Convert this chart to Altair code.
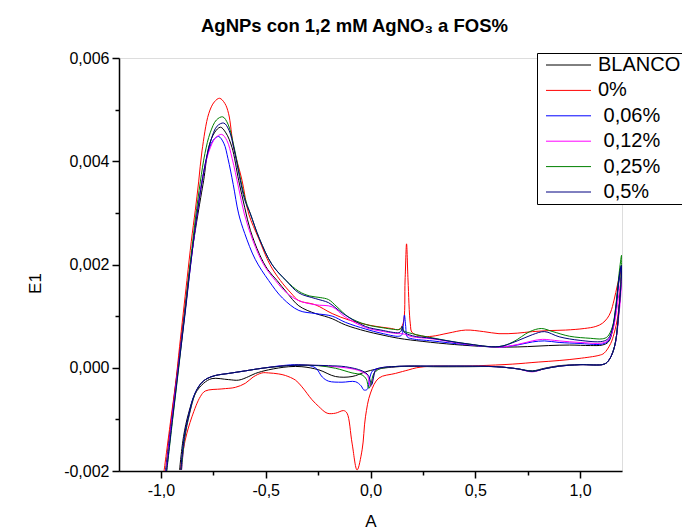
import altair as alt
import pandas as pd

# Series names (legend order) and colours
SERIES = ["BLANCO", "0%", "\u200b\u00a00,06%", "\u200b\u00a00,12%", "\u200b\u00a00,25%", "\u200b\u00a00,5%"]
COLORS = ["#000000", "#ff0000", "#0000ff", "#ff00ff", "#008000", "#000080"]

# (A, E1 in units of 1e-3), in scan order
BLANCO = [(-0.978, -2.0), (-0.95, -1.0), (-0.92, 0.0), (-0.89, 1.0), (-0.862, 1.95), (-0.836, 2.66),
          (-0.81, 3.3), (-0.796, 3.63), (-0.772, 4.27), (-0.745, 4.55), (-0.716, 4.66), (-0.69, 4.55),
          (-0.661, 4.27), (-0.629, 3.63), (-0.60, 3.1), (-0.573, 2.66), (-0.53, 2.2), (-0.49, 1.9),
          (-0.446, 1.69), (-0.40, 1.46), (-0.342, 1.2), (-0.263, 1.05), (-0.22, 1.0), (-0.183, 0.95),
          (-0.12, 0.83), (-0.024, 0.71), (0.05, 0.64), (0.135, 0.57), (0.25, 0.51), (0.40, 0.45),
          (0.55, 0.41), (0.65, 0.40), (0.75, 0.41), (0.85, 0.43), (0.95, 0.44), (1.05, 0.43),
          (1.106, 0.44), (1.135, 0.5), (1.155, 0.72), (1.17, 1.1), (1.186, 1.7), (1.197, 1.98),
          (1.194, 1.55), (1.186, 1.15), (1.17, 0.52), (1.155, 0.29), (1.138, 0.15), (1.115, 0.07),
          (1.0, 0.06), (0.9, 0.04), (0.83, -0.01), (0.772, -0.06), (0.7, -0.02), (0.6, 0.02),
          (0.45, 0.02), (0.3, 0.02), (0.183, 0.03), (0.1, 0.01), (0.024, -0.03), (-0.024, -0.08),
          (-0.088, -0.17), (-0.167, -0.17), (-0.247, -0.04), (-0.327, 0.02), (-0.39, 0.02),
          (-0.486, -0.04), (-0.549, -0.11), (-0.581, -0.17), (-0.629, -0.24), (-0.677, -0.23),
          (-0.756, -0.21), (-0.796, -0.30), (-0.836, -0.50), (-0.868, -0.88), (-0.892, -1.33),
          (-0.911, -1.98)]

FOS_0 = [(-0.985, -2.0), (-0.955, -1.07), (-0.928, -0.24), (-0.911, 0.41), (-0.876, 1.69),
         (-0.855, 2.45), (-0.836, 3.05), (-0.82, 3.6), (-0.804, 4.2), (-0.772, 4.92), (-0.745, 5.15),
         (-0.72, 5.22), (-0.695, 5.12), (-0.677, 4.92), (-0.653, 4.27), (-0.613, 3.63), (-0.581, 2.98),
         (-0.533, 2.5), (-0.48, 2.0), (-0.43, 1.69), (-0.38, 1.45), (-0.342, 1.30), (-0.263, 1.22),
         (-0.183, 1.05), (-0.1, 0.92), (0.0, 0.82), (0.1, 0.76), (0.135, 0.74), (0.155, 0.85),
         (0.165, 1.7), (0.172, 2.40), (0.179, 1.7), (0.19, 0.85), (0.199, 0.68), (0.25, 0.61),
         (0.294, 0.61), (0.37, 0.67), (0.454, 0.73), (0.54, 0.70), (0.613, 0.66), (0.7, 0.67),
         (0.772, 0.70), (0.85, 0.72), (0.931, 0.73), (1.02, 0.76), (1.075, 0.8), (1.106, 0.86),
         (1.13, 0.96), (1.146, 1.08), (1.162, 1.31), (1.178, 1.6), (1.19, 1.8), (1.197, 1.9),
         (1.192, 1.55), (1.18, 1.0), (1.162, 0.66), (1.146, 0.47), (1.114, 0.28), (1.09, 0.24),
         (0.995, 0.18), (0.9, 0.14), (0.8, 0.11), (0.676, 0.07), (0.517, 0.04), (0.4, 0.03),
         (0.294, 0.03), (0.22, 0.0), (0.183, -0.04), (0.119, -0.11), (0.04, -0.20), (0.0, -0.49),
         (-0.024, -0.95), (-0.04, -1.59), (-0.064, -1.98), (-0.088, -1.46), (-0.112, -0.88),
         (-0.128, -0.83), (-0.167, -0.88), (-0.207, -0.88), (-0.247, -0.75), (-0.279, -0.62),
         (-0.327, -0.37), (-0.358, -0.24), (-0.406, -0.15), (-0.438, -0.12), (-0.486, -0.10),
         (-0.518, -0.10), (-0.56, -0.18), (-0.597, -0.30), (-0.645, -0.38), (-0.709, -0.41),
         (-0.788, -0.45), (-0.812, -0.56), (-0.852, -0.95), (-0.884, -1.40), (-0.907, -1.98)]

FOS_006 = [(-0.976, -2.0), (-0.948, -1.0), (-0.918, 0.0), (-0.888, 1.0), (-0.86, 1.95), (-0.84, 2.6),
           (-0.82, 3.2), (-0.80, 3.7), (-0.78, 4.1), (-0.752, 4.4), (-0.725, 4.48), (-0.70, 4.35),
           (-0.68, 4.05), (-0.655, 3.55), (-0.629, 2.98), (-0.60, 2.6), (-0.55, 2.1), (-0.486, 1.69),
           (-0.42, 1.35), (-0.342, 1.11), (-0.263, 1.05), (-0.183, 1.0), (-0.12, 0.88), (-0.024, 0.75),
           (0.05, 0.67), (0.135, 0.61), (0.150, 0.64), (0.157, 0.85), (0.162, 1.02), (0.168, 0.8),
           (0.175, 0.6), (0.2, 0.56), (0.294, 0.52), (0.45, 0.45), (0.613, 0.40), (0.7, 0.44),
           (0.772, 0.5), (0.83, 0.52), (0.9, 0.49), (1.0, 0.47), (1.08, 0.45), (1.106, 0.46),
           (1.135, 0.52), (1.155, 0.74), (1.17, 1.12), (1.186, 1.72), (1.197, 1.98),
           (1.194, 1.55), (1.186, 1.15), (1.17, 0.52), (1.155, 0.29), (1.138, 0.15), (1.115, 0.07),
           (1.0, 0.06), (0.9, 0.03), (0.83, -0.02), (0.772, -0.07), (0.7, -0.02), (0.6, 0.02),
           (0.45, 0.03), (0.3, 0.03), (0.183, 0.03), (0.1, 0.02), (0.04, -0.01), (0.01, -0.06),
           (-0.004, -0.2), (-0.016, -0.42), (-0.032, -0.43), (-0.045, -0.35), (-0.072, -0.27),
           (-0.136, -0.28), (-0.2, -0.26), (-0.23, -0.18), (-0.263, 0.0), (-0.327, 0.06), (-0.4, 0.05),
           (-0.518, -0.01), (-0.597, -0.06), (-0.677, -0.11), (-0.74, -0.15), (-0.78, -0.21),
           (-0.81, -0.31), (-0.84, -0.52), (-0.866, -0.9), (-0.888, -1.35), (-0.904, -1.98)]

FOS_012 = [(-0.975, -2.0), (-0.947, -1.0), (-0.917, 0.0), (-0.887, 1.0), (-0.86, 1.95), (-0.838, 2.66),
           (-0.816, 3.3), (-0.795, 3.8), (-0.77, 4.2), (-0.74, 4.45), (-0.71, 4.52), (-0.685, 4.4),
           (-0.66, 4.05), (-0.63, 3.5), (-0.602, 2.98), (-0.56, 2.45), (-0.51, 2.0), (-0.454, 1.69),
           (-0.40, 1.45), (-0.342, 1.30), (-0.263, 1.22), (-0.183, 1.18), (-0.12, 0.98), (-0.024, 0.78),
           (0.05, 0.71), (0.135, 0.66), (0.152, 0.66), (0.2, 0.6), (0.294, 0.56), (0.45, 0.46),
           (0.613, 0.40), (0.7, 0.45), (0.772, 0.52), (0.82, 0.55), (0.9, 0.52), (1.0, 0.49),
           (1.106, 0.48), (1.135, 0.54), (1.155, 0.72), (1.17, 1.0), (1.186, 1.45), (1.197, 1.73),
           (1.194, 1.4), (1.186, 1.05), (1.17, 0.5), (1.155, 0.29), (1.138, 0.15), (1.115, 0.07),
           (1.0, 0.06), (0.9, 0.03), (0.83, -0.02), (0.772, -0.08), (0.7, -0.02), (0.6, 0.02),
           (0.45, 0.03), (0.3, 0.03), (0.183, 0.03), (0.1, 0.02), (0.04, -0.02), (0.02, -0.08),
           (0.01, -0.25), (0.0, -0.37), (-0.015, -0.15), (-0.04, -0.08), (-0.088, -0.02), (-0.2, 0.03),
           (-0.3, 0.05), (-0.4, 0.04), (-0.518, -0.01), (-0.597, -0.06), (-0.677, -0.11), (-0.74, -0.15),
           (-0.78, -0.21), (-0.81, -0.31), (-0.838, -0.52), (-0.864, -0.9), (-0.886, -1.35),
           (-0.901, -1.98)]

FOS_025 = [(-0.972, -2.0), (-0.944, -1.0), (-0.915, 0.0), (-0.886, 1.05), (-0.858, 2.1), (-0.835, 2.9),
           (-0.812, 3.6), (-0.79, 4.15), (-0.765, 4.55), (-0.735, 4.8), (-0.705, 4.86), (-0.68, 4.72),
           (-0.655, 4.35), (-0.625, 3.75), (-0.60, 3.3), (-0.573, 2.98), (-0.53, 2.5), (-0.47, 2.0),
           (-0.403, 1.69), (-0.342, 1.48), (-0.29, 1.39), (-0.24, 1.36), (-0.2, 1.32), (-0.16, 1.18),
           (-0.104, 0.98), (-0.024, 0.84), (0.05, 0.78), (0.135, 0.74), (0.146, 0.76), (0.151, 0.80),
           (0.157, 0.72), (0.2, 0.66), (0.294, 0.58), (0.45, 0.47), (0.613, 0.41), (0.68, 0.5),
           (0.76, 0.7), (0.815, 0.76), (0.87, 0.7), (0.95, 0.61), (1.05, 0.57), (1.106, 0.56),
           (1.13, 0.6), (1.154, 0.79), (1.17, 1.18), (1.186, 1.82), (1.198, 2.18),
           (1.195, 1.7), (1.187, 1.2), (1.171, 0.55), (1.156, 0.3), (1.138, 0.15), (1.115, 0.07),
           (1.0, 0.06), (0.9, 0.03), (0.83, -0.02), (0.772, -0.07), (0.7, -0.02), (0.6, 0.02),
           (0.45, 0.03), (0.3, 0.03), (0.183, 0.03), (0.1, 0.02), (0.04, -0.03), (0.015, -0.12),
           (0.003, -0.3), (-0.008, -0.40), (-0.02, -0.22), (-0.04, -0.14), (-0.088, -0.10),
           (-0.167, -0.01), (-0.25, 0.04), (-0.35, 0.05), (-0.45, 0.02), (-0.518, -0.01),
           (-0.597, -0.06), (-0.677, -0.11), (-0.74, -0.15), (-0.78, -0.21), (-0.81, -0.31),
           (-0.838, -0.52), (-0.864, -0.9), (-0.886, -1.35), (-0.902, -1.98)]

FOS_05 = [(-0.973, -2.0), (-0.945, -1.0), (-0.916, 0.0), (-0.886, 1.0), (-0.858, 2.0), (-0.835, 2.75),
          (-0.81, 3.45), (-0.788, 3.95), (-0.762, 4.4), (-0.732, 4.68), (-0.70, 4.74), (-0.675, 4.6),
          (-0.652, 4.25), (-0.625, 3.7), (-0.60, 3.25), (-0.573, 2.98), (-0.53, 2.5), (-0.47, 2.0),
          (-0.403, 1.69), (-0.342, 1.45), (-0.263, 1.34), (-0.2, 1.26), (-0.16, 1.14), (-0.12, 1.02),
          (-0.024, 0.80), (0.05, 0.73), (0.135, 0.68), (0.146, 0.71), (0.152, 0.80), (0.158, 0.70),
          (0.2, 0.62), (0.294, 0.57), (0.45, 0.47), (0.613, 0.41), (0.7, 0.52), (0.772, 0.64),
          (0.83, 0.70), (0.9, 0.6), (1.0, 0.53), (1.106, 0.51), (1.135, 0.57), (1.155, 0.78),
          (1.17, 1.15), (1.186, 1.75), (1.197, 1.98),
          (1.194, 1.55), (1.186, 1.15), (1.17, 0.52), (1.155, 0.29), (1.138, 0.15), (1.115, 0.07),
          (1.0, 0.06), (0.9, 0.03), (0.83, -0.02), (0.772, -0.07), (0.7, -0.02), (0.6, 0.02),
          (0.45, 0.03), (0.3, 0.03), (0.183, 0.03), (0.1, 0.02), (0.05, 0.0), (0.024, -0.04),
          (0.015, -0.18), (0.005, -0.33), (-0.01, -0.15), (-0.04, -0.06), (-0.12, 0.02), (-0.2, 0.04),
          (-0.3, 0.05), (-0.4, 0.04), (-0.518, -0.01), (-0.597, -0.06), (-0.677, -0.11), (-0.74, -0.15),
          (-0.78, -0.21), (-0.81, -0.31), (-0.84, -0.52), (-0.866, -0.9), (-0.889, -1.35),
          (-0.905, -1.98)]

CURVES = [BLANCO, FOS_0, FOS_006, FOS_012, FOS_025, FOS_05]

X_TICKS = [-1.0, -0.75, -0.5, -0.25, 0.0, 0.25, 0.5, 0.75, 1.0]
Y_TICKS = [-0.002, -0.001, 0.0, 0.001, 0.002, 0.003, 0.004, 0.005, 0.006]

rows = []
for name, curve in zip(SERIES, CURVES):
    for i, (a, e) in enumerate(curve):
        rows.append({"serie": name, "i": i, "A": a, "E1": e * 1e-3})
df = pd.DataFrame(rows)

FONT = "Liberation Sans"
x_major = "abs(datum.value*2 - round(datum.value*2)) < 0.01"
y_major = "abs(datum.value*500 - round(datum.value*500)) < 0.01"

x_axis = alt.Axis(
    values=X_TICKS,
    labelExpr=f"({x_major}) ? replace(replace(format(datum.value, '.1f'), '.', ','), '\u2212', '-') : ''",
    tickSize={"condition": {"test": x_major, "value": 7}, "value": 4},
    tickWidth=1.5, domainWidth=1.5, domainColor="black", tickColor="black",
    labelFont=FONT, labelFontSize=16, labelColor="black", labelPadding=4,
    labelFlush=False, labelOverlap=False, grid=False,
    titleFont=FONT, titleFontSize=17, titleFontWeight="normal", titleColor="black",
    titleY=55, titleBaseline="alphabetic",
)
y_axis = alt.Axis(
    values=Y_TICKS,
    labelExpr=f"({y_major}) ? replace(replace(format(datum.value, '.3f'), '.', ','), '\u2212', '-') : ''",
    tickSize={"condition": {"test": y_major, "value": 7}, "value": 4},
    tickWidth=1.5, domainWidth=1.5, domainColor="black", tickColor="black",
    labelFont=FONT, labelFontSize=16, labelColor="black", labelPadding=3,
    labelFlush=False, labelOverlap=False, grid=False,
    titleFont=FONT, titleFontSize=17, titleFontWeight="normal", titleColor="black",
    titleX=-84, titleY=225, titleAlign="center", titleBaseline="middle", titleAngle=270,
)

legend = alt.Legend(
    title=None, orient="none", legendX=418, legendY=-5,
    padding=2, fillColor="white", strokeColor="black",
    symbolType="M-0.6,0H8.4", symbolSize=100, symbolStrokeWidth=1,
    labelFont=FONT, labelFontSize=20, labelColor="black", labelOffset=39,
    rowPadding=5.4,
)

chart = alt.Chart(df).mark_line(strokeWidth=1, interpolate="catmull-rom", clip=True).encode(
    x=alt.X("A:Q", title="A", scale=alt.Scale(domain=[-1.2, 1.2], nice=False, zero=False), axis=x_axis),
    y=alt.Y("E1:Q", title="E1", scale=alt.Scale(domain=[-0.002, 0.006], nice=False, zero=False), axis=y_axis),
    color=alt.Color("serie:N", scale=alt.Scale(domain=SERIES, range=COLORS), legend=legend),
    order=alt.Order("i:Q"),
).properties(
    width=503, height=413,
    padding={"left": 119, "top": 58, "right": 60, "bottom": 58},
    autosize=alt.AutoSizeParams(type="none"),
    title=alt.TitleParams(
        text="AgNPs con 1,2 mM AgNO\u2083 a FOS%", font=FONT, fontSize=18.5, fontWeight="bold",
        color="black", anchor="middle", dx=-16, offset=15,
    ),
).configure_view(stroke=None).configure_legend(strokeWidth=1, cornerRadius=0).configure(background="white")

chart.save("out.html", embed_options={"renderer": "svg", "actions": False})
